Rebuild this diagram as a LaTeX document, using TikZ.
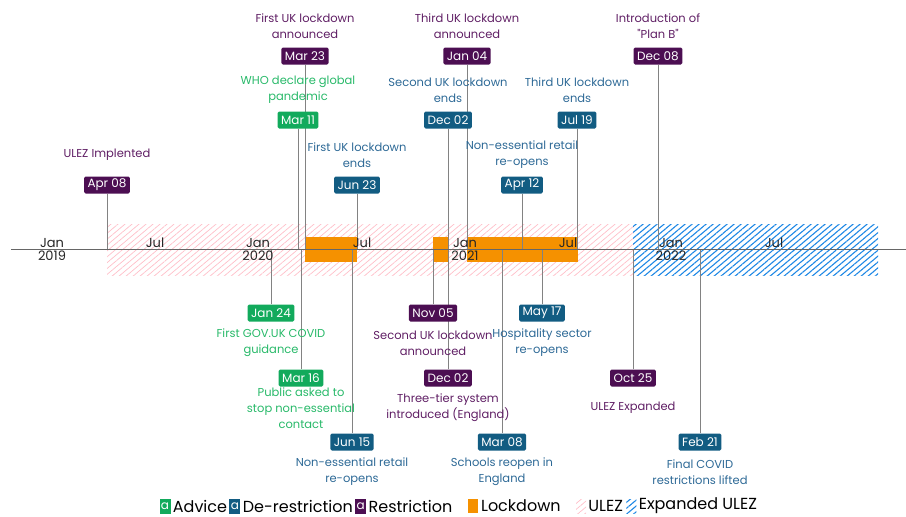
\documentclass[tikz,border=0pt]{standalone}
\usepackage{fontspec}
\setmainfont{Poppins}[Ligatures=TeXOff]
\usetikzlibrary{positioning, patterns.meta}

\definecolor{advice}{RGB}{18,170,92}
\definecolor{advicetxt}{RGB}{40,185,105}
\definecolor{derestr}{RGB}{18,92,130}
\definecolor{derestrtxt}{RGB}{45,105,150}
\definecolor{restr}{RGB}{76,14,82}
\definecolor{restrtxt}{RGB}{95,30,100}
\definecolor{lockdown}{RGB}{245,145,0}
\definecolor{ulez}{RGB}{255,190,200}
\definecolor{exulez}{RGB}{30,136,229}
\definecolor{stemgray}{RGB}{130,130,130}

\pgfdeclarelayer{hatch}
\pgfdeclarelayer{stems}
\pgfsetlayers{hatch,stems,main}

\begin{document}
\begin{tikzpicture}[x=1pt, y=-1pt,
    datebox/.style={rounded corners=1.5pt, text=white, font=\fontsize{12}{13}\selectfont,
        inner xsep=3.5pt, inner ysep=2pt, minimum height=17pt},
    advbox/.style={datebox, fill=advice},
    derbox/.style={datebox, fill=derestr},
    resbox/.style={datebox, fill=restr},
    note/.style={align=center, font=\fontsize{11.5}{16}\selectfont, inner sep=0pt},
    advnote/.style={note, text=advicetxt},
    dernote/.style={note, text=derestrtxt},
    resnote/.style={note, text=restrtxt},
    stem/.style={draw=stemgray, line width=0.9pt},
    axisline/.style={draw=black!60, line width=0.9pt},
    ticklab/.style={align=center, font=\fontsize{13}{13}\selectfont, text=black!85, inner sep=0pt},
    ulezfill/.style={pattern={Lines[angle=40, distance=4.5pt, line width=0.7pt]}, pattern color=ulez},
    exulezfill/.style={pattern={Lines[angle=40, distance=4.5pt, line width=1.1pt]}, pattern color=exulez},
    legbox/.style={text=white, font=\fontsize{12}{12}\selectfont, minimum width=11pt,
        minimum height=15pt, inner sep=0pt},
    legkey/.style={minimum width=10pt, minimum height=14pt, inner sep=0pt},
    legtext/.style={font=\fontsize{16}{18}\selectfont, inner sep=1pt}]
    \useasboundingbox (0,0) rectangle (906,517);

    % ULEZ zones and lockdowns
    \begin{pgfonlayer}{hatch}
    \path[ulezfill] (107,224) rectangle (633,275);
    \path[exulezfill] (633,224) rectangle (878,275);
    \fill[lockdown] (305,237) rectangle (357,262);
    \fill[lockdown] (433,237) rectangle (448,262);
    \fill[lockdown] (467,237) rectangle (578,262);
    \end{pgfonlayer}

    \coordinate (axisL) at (11,249);
    \coordinate (axisR) at (906,249);
    \draw[axisline] (axisL) -- (axisR);

    \node[ticklab] (y19) at (52,249.5) {Jan\\2019};
    \node[ticklab] (y20) at (258,249.5) {Jan\\2020};
    \node[ticklab] (y21) at (465,249.5) {Jan\\2021};
    \node[ticklab] (y22) at (671,249.5) {Jan\\2022};
    \node[ticklab] (j19) at (155,243) {Jul};
    \node[ticklab] (j20) at (362,243) {Jul};
    \node[ticklab] (j21) at (568,243) {Jul};
    \node[ticklab] (j22) at (774,243) {Jul};

    % events above the axis
    \node[resbox] (ulez) at (107,185) {Apr 08};
    \node[resnote, yshift=30pt] (ulezN) at (ulez) {ULEZ Implented};
    \node[advbox] (who) at (298,120) {Mar 11};
    \node[advnote, yshift=30pt] (whoN) at (who) {WHO declare global\\pandemic};
    \node[resbox] (lockA) at (305,56) {Mar 23};
    \node[resnote, yshift=30pt] (lockAN) at (lockA) {First UK lockdown\\announced};
    \node[derbox] (lockAend) at (357,185) {Jun 23};
    \node[dernote, yshift=30pt] (lockAendN) at (lockAend) {First UK lockdown\\ends};
    \node[derbox] (lockBend) at (448,120) {Dec 02};
    \node[dernote, yshift=30pt] (lockBendN) at (lockBend) {Second UK lockdown\\ends};
    \node[resbox] (lockC) at (467,56) {Jan 04};
    \node[resnote, yshift=30pt] (lockCN) at (lockC) {Third UK lockdown\\announced};
    \node[derbox] (retailB) at (522,185) {Apr 12};
    \node[dernote, yshift=30pt] (retailBN) at (retailB) {Non-essential retail\\re-opens};
    \node[derbox] (lockCend) at (577,120) {Jul 19};
    \node[dernote, yshift=30pt] (lockCendN) at (lockCend) {Third UK lockdown\\ends};
    \node[resbox] (planB) at (658,56) {Dec 08};
    \node[resnote, yshift=30pt] (planBN) at (planB) {Introduction of\\"Plan B"};

    % events below the axis
    \node[advbox] (govuk) at (271,313) {Jan 24};
    \node[advnote, yshift=-30pt] (govukN) at (govuk) {First GOV.UK COVID\\guidance};
    \node[advbox] (contact) at (301,378) {Mar 16};
    \node[advnote, yshift=-30pt] (contactN) at (contact) {Public asked to\\stop non-essential\\contact};
    \node[derbox] (retailA) at (352,442) {Jun 15};
    \node[dernote, yshift=-30pt] (retailAN) at (retailA) {Non-essential retail\\re-opens};
    \node[resbox] (lockB) at (433,313) {Nov 05};
    \node[resnote, yshift=-30pt] (lockBN) at (lockB) {Second UK lockdown\\announced};
    \node[resbox] (tier) at (448,378) {Dec 02};
    \node[resnote, yshift=-30pt] (tierN) at (tier) {Three-tier system\\introduced (England)};
    \node[derbox] (schools) at (502,442) {Mar 08};
    \node[dernote, yshift=-30pt] (schoolsN) at (schools) {Schools reopen in\\England};
    \node[derbox] (hosp) at (542,313) {May 17};
    \node[dernote, yshift=-30pt] (hospN) at (hosp) {Hospitality sector\\re-opens};
    \node[resbox] (ulezX) at (633,378) {Oct 25};
    \node[resnote, yshift=-30pt] (ulezXN) at (ulezX) {ULEZ Expanded};
    \node[derbox] (final) at (700,442) {Feb 21};
    \node[dernote, yshift=-30pt] (finalN) at (final) {Final COVID\\restrictions lifted};

    % stems
    \begin{pgfonlayer}{stems}
    \draw[stem] (ulez) -- (ulez |- axisL);
    \draw[stem] (who) -- (who |- axisL);
    \draw[stem] (lockA) -- (lockA |- axisL);
    \draw[stem] (lockAend) -- (lockAend |- axisL);
    \draw[stem] (lockBend) -- (lockBend |- axisL);
    \draw[stem] (lockC) -- (lockC |- axisL);
    \draw[stem] (retailB) -- (retailB |- axisL);
    \draw[stem] (lockCend) -- (lockCend |- axisL);
    \draw[stem] (planB) -- (planB |- axisL);
    \draw[stem] (govuk) -- (govuk |- axisL);
    \draw[stem] (contact) -- (contact |- axisL);
    \draw[stem] (retailA) -- (retailA |- axisL);
    \draw[stem] (lockB) -- (lockB |- axisL);
    \draw[stem] (tier) -- (tier |- axisL);
    \draw[stem] (schools) -- (schools |- axisL);
    \draw[stem] (hosp) -- (hosp |- axisL);
    \draw[stem] (ulezX) -- (ulezX |- axisL);
    \draw[stem] (final) -- (final |- axisL);
    \end{pgfonlayer}

    % legend
    \node[legbox, fill=advice] (kAdv) at (165,506) {a};
    \node[legtext, right=1pt of kAdv] (kAdvT) {Advice};
    \node[legbox, fill=derestr, right=1pt of kAdvT] (kDer) {a};
    \node[legtext, right=1pt of kDer] (kDerT) {De-restriction};
    \node[legbox, fill=restr, right=1pt of kDerT] (kRes) {a};
    \node[legtext, right=1pt of kRes] (kResT) {Restriction};
    \node[legkey, fill=lockdown, right=14pt of kResT] (kLock) {};
    \node[legtext, right=2pt of kLock] (kLockT) {Lockdown};
    \node[legkey, ulezfill, right=14pt of kLockT] (kUlez) {};
    \node[legtext, right=1pt of kUlez] (kUlezT) {ULEZ};
    \node[legkey, exulezfill, right=2pt of kUlezT] (kExUlez) {};
    \node[legtext, right=1pt of kExUlez] (kExUlezT) {Expanded ULEZ};
\end{tikzpicture}
\end{document}
